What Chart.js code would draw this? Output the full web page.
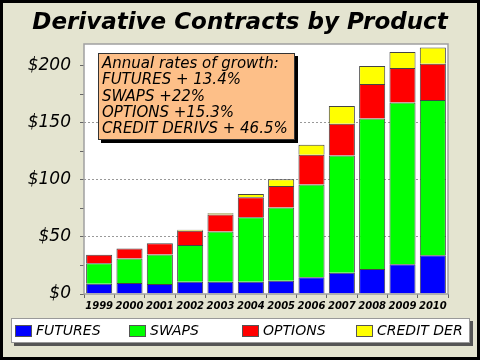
<!DOCTYPE html>
<html><head><meta charset="utf-8">
<script src="https://cdn.jsdelivr.net/npm/chart.js@4.4.0/dist/chart.umd.min.js"></script>
<style>html,body{margin:0;padding:0;background:#e4e4d0}canvas{display:block}</style>
</head><body>
<canvas id="c" width="480" height="360"></canvas>
<script>
const years = ['1999','2000','2001','2002','2003','2004','2005','2006','2007','2008','2009','2010'];
const futures = [9, 9.6, 8.8, 10.8, 10.8, 10.8, 11.7, 14.6, 18.7, 21.9, 26, 33.9];
const swaps   = [18, 21.4, 25.7, 32.2, 43.9, 56.5, 64, 81.3, 102.6, 131.9, 141.8, 136];
const options = [7.4, 8.8, 9.9, 12.5, 14.9, 17.5, 19, 26.1, 27.8, 30.1, 30.2, 31.9];
const credit  = [0, 0, 0, 0.8, 1.2, 2.7, 5.9, 8.7, 15.5, 15.8, 14, 14.2];
const seriesNames = ['FUTURES', 'SWAPS', 'OPTIONS', 'CREDIT DER'];
const seriesColors = ['#0000ff', '#00ff00', '#ff0000', '#ffff00'];
const titleText = 'Derivative Contracts by Product';
const noteLines = ['Annual rates of growth:', 'FUTURES + 13.4%', 'SWAPS +22%', 'OPTIONS +15.3%', 'CREDIT DERIVS + 46.5%'];
const yTickLabels = {0:'$0', 50:'$50', 100:'$100', 150:'$150', 200:'$200'};

const FONT = '"DejaVu Sans", Verdana, sans-serif';

const decor = {
  id: 'decor',
  beforeDraw(chart) {
    const c = chart.ctx, a = chart.chartArea;
    c.save();
    c.fillStyle = '#000';
    c.fillRect(0, 0, 480, 360);
    c.fillStyle = '#e4e4d0';
    c.fillRect(3, 3, 474, 354);
    c.fillStyle = '#ffffff';
    c.fillRect(a.left, a.top, a.right - a.left, a.bottom - a.top);
    // title
    c.fillStyle = '#000';
    c.font = 'italic bold 23px ' + FONT;
    c.textAlign = 'center';
    c.textBaseline = 'middle';
    c.fillText(titleText, 240, 23);
    c.restore();
  },
  afterDatasetsDraw(chart) {
    const c = chart.ctx, a = chart.chartArea;
    c.save();
    c.strokeStyle = '#a0a0a0';
    c.lineWidth = 1.5;
    c.strokeRect(a.left, a.top, a.right - a.left, a.bottom - a.top);
    // note box
    const bx = 98, by = 53, bw = 197, bh = 87;
    c.fillStyle = '#000';
    c.fillRect(bx + 3, by + 3, bw, bh);
    c.fillStyle = '#fdbf88';
    c.fillRect(bx, by, bw, bh);
    c.strokeStyle = '#333';
    c.lineWidth = 1;
    c.strokeRect(bx + 0.5, by + 0.5, bw - 1, bh - 1);
    c.fillStyle = '#000';
    c.font = 'italic 15px ' + FONT;
    c.textBaseline = 'middle';
    c.textAlign = 'left';
    noteLines.forEach((t, i) => c.fillText(t, 102, 64 + i * 16.4));
    // legend
    const lx = 11, ly = 318, lw = 459, lh = 25;
    c.fillStyle = '#555';
    c.fillRect(lx + 3, ly + 3, lw, lh);
    c.fillStyle = '#fff';
    c.fillRect(lx, ly, lw, lh);
    c.strokeStyle = '#999';
    c.strokeRect(lx + 0.5, ly + 0.5, lw - 1, lh - 1);
    const xs = [15, 129, 242, 356];
    c.font = 'italic 14px ' + FONT;
    chart.data.datasets.forEach((ds, i) => {
      c.fillStyle = ds.backgroundColor;
      c.fillRect(xs[i], 325, 17, 12);
      c.strokeStyle = '#555';
      c.strokeRect(xs[i] + 0.5, 325.5, 16, 11);
      c.fillStyle = '#000';
      c.fillText(ds.label, xs[i] + 21, 331.5);
    });
    c.restore();
  }
};

const data = {
  labels: years,
  datasets: [futures, swaps, options, credit].map((v, i) => ({
    label: seriesNames[i],
    data: v,
    backgroundColor: seriesColors[i],
    borderColor: '#444',
    borderWidth: 1,
    barPercentage: 0.86,
    categoryPercentage: 1
  }))
};

new Chart(document.getElementById('c'), {
  type: 'bar',
  data,
  plugins: [decor],
  options: {
    responsive: false,
    devicePixelRatio: 1,
    animation: false,
    layout: { padding: { left: 0, right: 32, top: 44, bottom: 0 } },
    plugins: {
      legend: { display: false },
      tooltip: { enabled: false },
      title: { display: false }
    },
    scales: {
      x: {
        stacked: true,
        afterFit(s) { s.height = 66; },
        grid: { offset: true, drawOnChartArea: false, drawTicks: true, tickLength: 4, tickColor: '#666' },
        border: { display: false },
        ticks: { color: '#000', padding: 2, maxRotation: 0, autoSkip: false,
          font: { family: FONT, size: 10, weight: 'bold', style: 'italic' } }
      },
      y: {
        stacked: true,
        min: 0,
        max: 219,
        afterFit(s) { s.width = 84; },
        afterBuildTicks(s) { s.ticks = s.ticks.filter(t => t.value % 25 === 0); },
        grid: {
          color: (ctx) => [50, 100, 150].includes(ctx.tick && ctx.tick.value) ? '#999' : 'rgba(0,0,0,0)',
          tickColor: '#666',
          tickLength: 4,
          lineWidth: 1
        },
        border: { display: false, dash: [2, 2] },
        ticks: {
          stepSize: 25,
          color: '#000',
          padding: 9,
          autoSkip: false,
          font: { family: FONT, size: 17, style: 'italic' },
          callback: (v) => (yTickLabels[v] !== undefined ? yTickLabels[v] : '')
        }
      }
    }
  }
});
</script>
</body></html>
